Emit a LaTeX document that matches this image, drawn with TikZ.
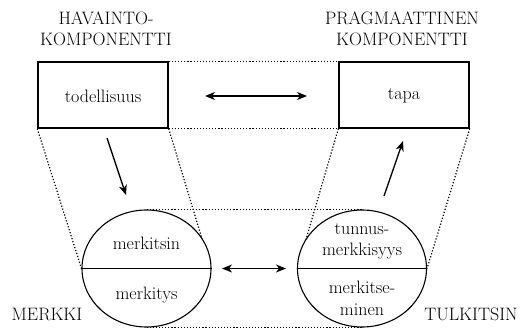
\documentclass[tikz,border=0pt]{standalone}
\usetikzlibrary{shapes.geometric,arrows.meta}
\begin{document}
\begin{tikzpicture}[x=1pt,y=-1pt,
  every node/.style={font=\rmfamily\fontsize{18}{21.5}\selectfont, inner sep=0pt},
  boxnode/.style={draw, line width=1.4pt, minimum width=130pt, minimum height=66pt},
  ellnode/.style={ellipse, draw, fill=white, line width=1.1pt, minimum width=129pt, minimum height=117pt},
  dotline/.style={line width=1.2pt, dash pattern=on 1.2pt off 1.9pt},
  arr/.style={line width=1.3pt, -{Stealth[length=10pt,width=8pt,inset=3pt]}},
  darr/.style={line width=1.3pt, {Stealth[length=10pt,width=8pt,inset=3pt]}-{Stealth[length=10pt,width=8pt,inset=3pt]}},
  lbl/.style={align=center}]
\useasboundingbox (0,0) rectangle (521,329);
% boxes
\node[boxnode] (L) at (103,95) {};
\node[boxnode] (R) at (404,95) {};
\node (Lt) at (103,96) {todellisuus};
\node (Rt) at (404,96) {tapa};
% ellipse side points (for connectors drawn under the ellipses)
\coordinate (Me) at (211,268.5);
\coordinate (Tw) at (297.5,268.5);
% dotted connectors between boxes
\draw[dotline] (L.north east) -- (R.north west);
\draw[dotline] (L.south east) -- (R.south west);
% dotted connectors hidden partly behind the ellipses
\draw[dotline] (L.south east) -- (Me);
\draw[dotline] (R.south west) -- (Tw);
% ellipses
\node[ellnode] (M) at (146.5,268.5) {};
\node[ellnode] (T) at (362,268.5) {};
\draw[line width=1.1pt] (M.west) -- (M.east);
\draw[line width=1.1pt] (T.west) -- (T.east);
\draw[dotline] (L.south west) -- (M.west);
\draw[dotline] (R.south east) -- (T.east);
\draw[dotline] (M.north) -- (T.north);
\draw[dotline] (M.south) -- (T.south);
% ellipse texts
\node (m1) at (146.5,243) {merkitsin};
\node (m2) at (146.5,295) {merkitys};
\node[lbl] (t1) at (362,241.5) {tunnus-\\merkkisyys};
\node[lbl] (t2) at (362,298.5) {merkitse-\\minen};
% arrows
\coordinate (a1s) at (107,138);
\coordinate (a1e) at (126,195);
\coordinate (a2s) at (384,196);
\coordinate (a2e) at (403,141);
\draw[arr] (a1s) -- (a1e);
\draw[arr] (a2s) -- (a2e);
\coordinate (h1a) at (205,96);
\coordinate (h1b) at (307,96);
\draw[darr] (h1a) -- (h1b);
\coordinate (h2a) at (222,268.5);
\coordinate (h2b) at (286,268.5);
\draw[darr] (h2a) -- (h2b);
% labels
\node[lbl] (hv) at (106,29) {HAVAINTO-\\KOMPONENTTI};
\node[lbl] (pr) at (402,29) {PRAGMAATTINEN\\KOMPONENTTI};
\node (mk) at (47,314) {MERKKI};
\node (tk) at (471,314) {TULKITSIN};
\end{tikzpicture}
\end{document}
